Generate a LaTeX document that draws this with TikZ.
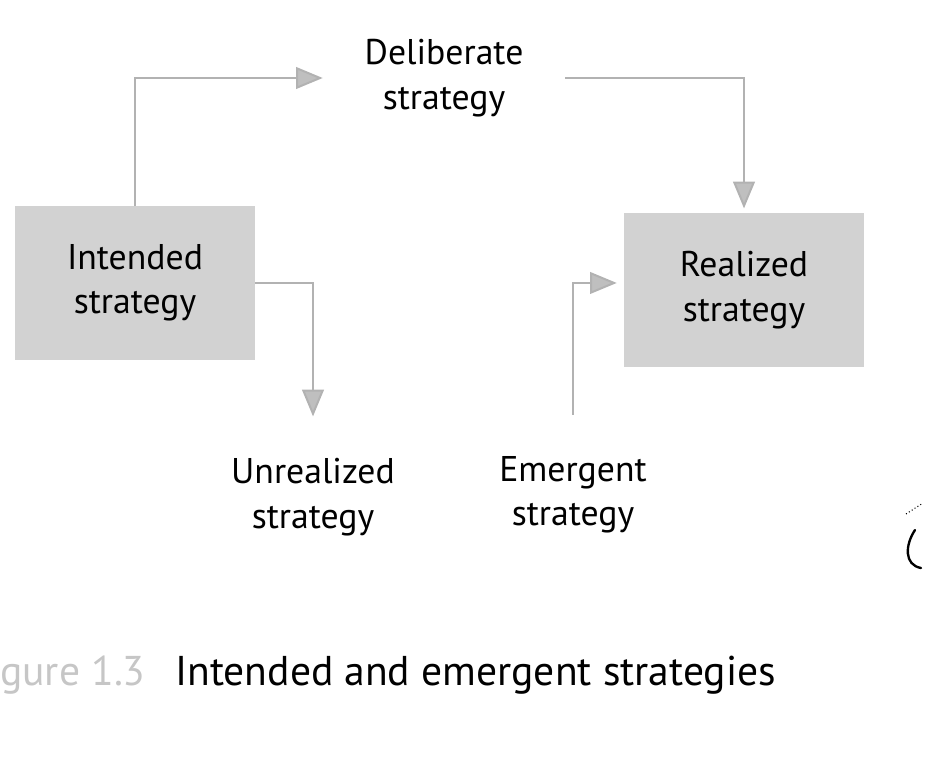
\documentclass[tikz,border=0pt]{standalone}
\usepackage{fontspec}
\setmainfont{PT Sans}
\usetikzlibrary{arrows.meta}

\newcommand{\labelfont}{\fontsize{30.5}{38}\selectfont}
\newcommand{\captionfont}{\fontsize{35.5}{40}\selectfont}

\tikzset{
    stratbox/.style={fill=gray!35, minimum width=7.2cm, minimum height=4.6cm,
        align=center, font=\labelfont},
    strattext/.style={align=center, inner xsep=1.25cm, inner ysep=1.25cm,
        font=\labelfont},
    flow/.style={gray!60, line width=1.7pt,
        -{Triangle[width=0.65cm, length=0.8cm, fill=gray!50]}},
}

\begin{document}
\begin{tikzpicture}[x=0.03cm, y=-0.03cm]
        % 0. Page frame (pixel grid of the scan)
        \useasboundingbox (0,0) rectangle (929,765);

        % 1. The strategies (Nodes)
        % Shaded boxes
        \node[stratbox] (intended) at (135,283) {Intended\\strategy};
        \node[stratbox] (realized) at (744,290) {Realized\\strategy};

        % Plain labels
        \node[strattext] (delib)  at (444,78)  {Deliberate\\strategy};
        \node[strattext] (unreal) at (313,497) {Unrealized\\strategy};
        \node[strattext] (emerg)  at (573,495) {Emergent\\strategy};

        % 2. Draw the flows (Arrows)
        \draw[flow] (intended.north) |- (delib.west);
        \draw[flow] (delib.east) -| ([yshift=4pt]realized.north);
        \draw[flow] (intended.east) -| (unreal.north);
        \draw[flow] (emerg.north) |- ([xshift=-6pt, yshift=6pt]realized.west);

        % 3. Caption
        \node[anchor=west, font=\captionfont, text=gray!45, inner sep=0pt]
            (fignum) at (0,675) {gure 1.3};
        \node[anchor=west, font=\captionfont, inner sep=0pt]
            (caption) at (175,675) {Intended and emergent strategies};

        % 4. Pencil mark at the margin
        \draw[line width=2pt, line cap=round]
            (915,530) .. controls (905,545) and (904,565) .. (921,568);
        \draw[line width=0.9pt, dotted] (906,514) -- (923,503);
\end{tikzpicture}
\end{document}
